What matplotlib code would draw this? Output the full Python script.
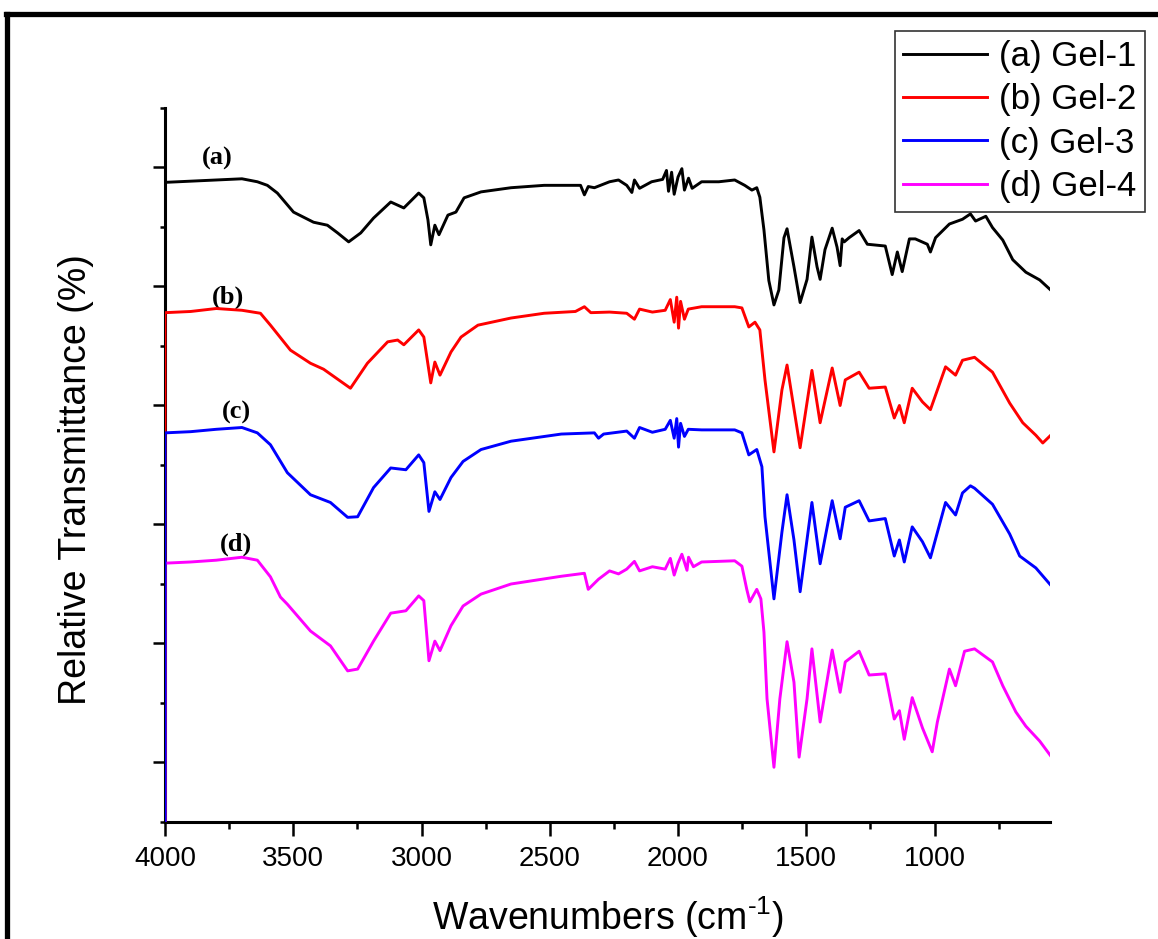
import numpy as np
import matplotlib
matplotlib.use("Agg")
import matplotlib.pyplot as plt
from matplotlib.lines import Line2D
from matplotlib.ticker import FixedLocator

plt.rcParams['font.family'] = ['Liberation Sans', 'DejaVu Sans']
plt.rcParams['mathtext.fontset'] = 'custom'
plt.rcParams['mathtext.rm'] = 'Liberation Sans'
plt.rcParams['mathtext.it'] = 'Liberation Sans:italic'

# FTIR spectra (wavenumber in cm-1, stacked transmittance)
# the first point of every trace sits at the bottom of the axis, as in the original
wn_a = [4000, 4000, 3900, 3800, 3700, 3640, 3601, 3562, 3499, 3421, 3367, 3327, 3284, 3237, 3187,
        3120, 3069, 3011, 2991, 2975, 2964, 2948, 2932, 2897, 2866, 2834, 2768, 2651, 2522,
        2380, 2365, 2350, 2326, 2267, 2232, 2200, 2180, 2170, 2150, 2103, 2060, 2045, 2037,
        2025, 2015, 2000, 1985, 1975, 1959, 1945, 1908, 1841, 1779, 1740, 1712, 1693, 1681,
        1665, 1646, 1626, 1607, 1587, 1575, 1548, 1524, 1497, 1478, 1458, 1446, 1427, 1399,
        1380, 1368, 1360, 1352, 1333, 1294, 1262, 1192, 1165, 1145, 1126, 1098, 1075, 1028,
        1016, 996, 942, 891, 860, 840, 800, 774, 734, 695, 644, 590, 547]
t_a = [0, 107.5, 107.7, 107.9, 108.1, 107.6, 107.0, 105.7, 102.5, 100.8, 100.3, 99.0, 97.5, 99.0, 101.5,
       104.2, 103.2, 105.7, 104.9, 101.2, 97.0, 100.3, 98.7, 102.0, 102.5, 104.9, 105.9, 106.6, 107.0,
       107.0, 105.4, 106.8, 106.6, 107.6, 107.9, 107.0, 105.8, 107.9, 106.5, 107.6, 108.0, 109.5, 106.0,
       109.2, 105.5, 108.4, 109.8, 106.2, 108.2, 106.5, 107.6, 107.6, 107.9, 107.0, 106.2, 106.6, 105.0,
       99.5, 91.0, 86.9, 89.4, 98.2, 99.7, 93.3, 87.3, 91.2, 98.3, 93.3, 91.2, 96.2, 99.8,
       96.6, 93.5, 98.0, 97.5, 98.2, 99.4, 97.1, 96.8, 92.0, 95.8, 92.5, 98.0, 98.0, 97.1,
       95.8, 98.2, 100.5, 101.3, 102.2, 101.0, 101.8, 99.9, 97.8, 94.5, 92.4, 91.1, 89.4]

wn_b = [4000, 4000, 3900, 3800, 3700, 3628, 3589, 3511, 3433, 3382, 3277, 3211, 3132, 3093, 3069,
        3011, 2991, 2964, 2948, 2928, 2885, 2846, 2780, 2651, 2522, 2400, 2365, 2340, 2267,
        2200, 2170, 2150, 2100, 2050, 2030, 2015, 2005, 1998, 1990, 1975, 1960, 1908, 1779,
        1751, 1724, 1700, 1681, 1661, 1626, 1595, 1575, 1524, 1478, 1446, 1399, 1368, 1348,
        1294, 1255, 1192, 1157, 1137, 1118, 1087, 1047, 1016, 957, 918, 891, 844, 774, 707,
        656, 605, 578, 547]
t_b = [0, 85.6, 85.8, 86.3, 86.0, 85.5, 83.5, 79.3, 77.1, 76.1, 72.9, 77.1, 80.7, 81.0, 80.2,
       82.7, 81.5, 73.8, 77.3, 75.1, 79.0, 81.5, 83.5, 84.7, 85.5, 85.8, 86.6, 85.6, 85.7,
       85.5, 84.5, 86.2, 85.7, 86.0, 87.8, 84.0, 88.2, 83.0, 87.5, 84.5, 86.2, 86.6, 86.6,
       86.4, 83.2, 84.0, 82.7, 74.3, 62.2, 72.6, 76.8, 62.9, 75.9, 67.1, 76.3, 70.0, 74.3,
       75.6, 72.9, 73.1, 67.9, 70.0, 67.1, 72.9, 70.6, 69.3, 76.5, 75.1, 77.6, 78.1, 75.6, 70.4,
       67.1, 65.0, 63.7, 65.0]

wn_c = [4000, 4000, 3900, 3800, 3700, 3640, 3589, 3523, 3433, 3355, 3288, 3249, 3187, 3120, 3061,
        3011, 2991, 2971, 2948, 2928, 2885, 2838, 2768, 2651, 2455, 2326, 2310, 2290,
        2200, 2170, 2150, 2100, 2050, 2030, 2015, 2005, 1998, 1990, 1975, 1960, 1908, 1779,
        1751, 1724, 1693, 1673, 1661, 1626, 1595, 1575, 1548, 1524, 1478, 1446, 1399, 1368,
        1348, 1294, 1255, 1192, 1157, 1137, 1118, 1087, 1047, 1016, 957, 918, 891, 860, 844,
        774, 707, 668, 605, 547]
t_c = [0, 65.4, 65.6, 66.0, 66.3, 65.4, 63.4, 58.7, 55.0, 53.7, 51.2, 51.3, 56.2, 59.5, 59.2,
       61.7, 60.4, 52.2, 55.5, 54.2, 57.9, 60.6, 62.6, 64.0, 65.2, 65.4, 64.5, 65.2,
       65.7, 64.5, 66.3, 65.5, 66.0, 67.5, 64.5, 67.8, 63.0, 67.0, 64.8, 66.0, 65.9, 65.9,
       65.4, 61.7, 62.6, 59.7, 51.3, 37.5, 48.7, 55.0, 47.4, 38.7, 53.7, 43.4, 54.0, 47.6,
       52.9, 54.0, 50.6, 51.0, 44.7, 47.4, 43.7, 49.6, 47.1, 44.4, 53.7, 51.6, 55.3, 56.5, 56.1,
       53.4, 48.4, 44.7, 42.7, 39.8]

wn_d = [4000, 4000, 3900, 3800, 3700, 3640, 3589, 3550, 3523, 3433, 3355, 3288, 3249, 3187, 3120,
        3061, 3011, 2991, 2971, 2948, 2928, 2885, 2838, 2768, 2651, 2455, 2365, 2350, 2310,
        2267, 2232, 2200, 2170, 2150, 2100, 2050, 2030, 2015, 2000, 1985, 1965, 1959, 1940,
        1908, 1779, 1751, 1732, 1720, 1693, 1677, 1665, 1653, 1626, 1603, 1575, 1548, 1528,
        1497, 1478, 1446, 1399, 1368, 1348, 1294, 1255, 1192, 1157, 1137, 1118, 1087, 1047,
        1009, 989, 942, 918, 883, 844, 774, 734, 683, 644, 590, 547]
t_d = [0, 43.5, 43.7, 44.0, 44.5, 44.0, 41.2, 37.8, 36.6, 32.1, 29.6, 25.4, 25.7, 30.4, 35.1,
       35.5, 38.0, 37.2, 27.1, 30.4, 28.8, 33.0, 36.3, 38.3, 40.0, 41.3, 41.8, 39.1, 40.8,
       42.2, 41.7, 42.5, 43.8, 42.2, 42.9, 42.5, 44.3, 41.5, 43.5, 45.0, 42.3, 44.5, 42.9,
       43.7, 43.9, 43.0, 39.1, 37.0, 39.1, 37.5, 31.9, 20.7, 9.2, 20.7, 30.3, 23.5, 10.9,
       20.7, 29.1, 16.8, 28.9, 21.8, 26.9, 28.7, 24.7, 24.9, 17.3, 18.7, 13.9, 20.9, 15.8,
       11.8, 16.8, 25.7, 22.9, 28.7, 29.1, 26.9, 22.9, 18.5, 16.1, 13.6, 11.1]

labels = ['(a) Gel-1', '(b) Gel-2', '(c) Gel-3', '(d) Gel-4']
tags = ['(a)', '(b)', '(c)', '(d)']
tag_x = [3797, 3754, 3722, 3722]
tag_y = [111.6, 88.2, 68.9, 46.6]
colors = ['black', '#ff0000', '#0000ff', '#ff00ff']

fig = plt.figure(figsize=(11.58, 9.39), dpi=100)
ax = fig.add_axes([0.1425, 0.1246, 0.9067 - 0.1425, 0.885 - 0.1246])

series = [(wn_a, t_a), (wn_b, t_b), (wn_c, t_c), (wn_d, t_d)]
zo = [3, 4, 6, 5]
for (x, y), lab, c, z in zip(series, labels, colors, zo):
    ax.plot(x, y, color=c, lw=2.1, label=lab, zorder=z)

for t, x, y in zip(tags, tag_x, tag_y):
    ax.text(x, y, t, fontsize=19, fontweight='bold', family=['Liberation Serif', 'DejaVu Serif'],
            ha='center', va='center')

ax.set_xlim(4000, 550)
ax.set_ylim(0, 120)
ax.xaxis.set_major_locator(FixedLocator([4000, 3500, 3000, 2500, 2000, 1500, 1000]))
ax.xaxis.set_minor_locator(FixedLocator([3750, 3250, 2750, 2250, 1750, 1250, 750]))
ax.yaxis.set_major_locator(FixedLocator([10, 30, 50, 70, 90, 110]))
ax.yaxis.set_minor_locator(FixedLocator([0, 20, 40, 60, 80, 100, 120]))
ax.set_yticklabels([])

for s in ['top', 'right']:
    ax.spines[s].set_visible(False)
for s in ['left', 'bottom']:
    ax.spines[s].set_linewidth(2.2)

ax.tick_params(axis='x', which='major', length=10, width=1.8, labelsize=20, pad=7)
ax.tick_params(axis='x', which='minor', length=5, width=1.8)
ax.tick_params(axis='y', which='major', length=8.5, width=1.8)
ax.tick_params(axis='y', which='minor', length=3.6, width=1.8)

ax.set_xlabel('Wavenumbers (cm$^{\\text{-1}}$)', fontsize=27)
ax.xaxis.set_label_coords(0.5, -0.102)
ax.set_ylabel('Relative Transmittance (%)', fontsize=27)
ax.yaxis.set_label_coords(-0.08, 0.48)

leg = ax.legend(loc='upper right', bbox_to_anchor=(0.9888, 0.967), bbox_transform=fig.transFigure,
                fontsize=25, frameon=True, fancybox=False, borderpad=0.25, labelspacing=0.3,
                handlelength=2.4, handletextpad=0.35, borderaxespad=0)
leg.get_frame().set_edgecolor('black')
leg.get_frame().set_linewidth(1.2)
for h in leg.get_lines():
    h.set_linewidth(2.1)

# outer frame of the picture (top and left edges)
fig.add_artist(Line2D([7.5 / 1158, 7.5 / 1158], [0, 1 - 13.5 / 939], transform=fig.transFigure,
                      color='black', lw=3.8))
fig.add_artist(Line2D([5.5 / 1158, 1], [1 - 13.5 / 939, 1 - 13.5 / 939], transform=fig.transFigure,
                      color='black', lw=3.8))

fig.savefig('out.png', dpi=100)
